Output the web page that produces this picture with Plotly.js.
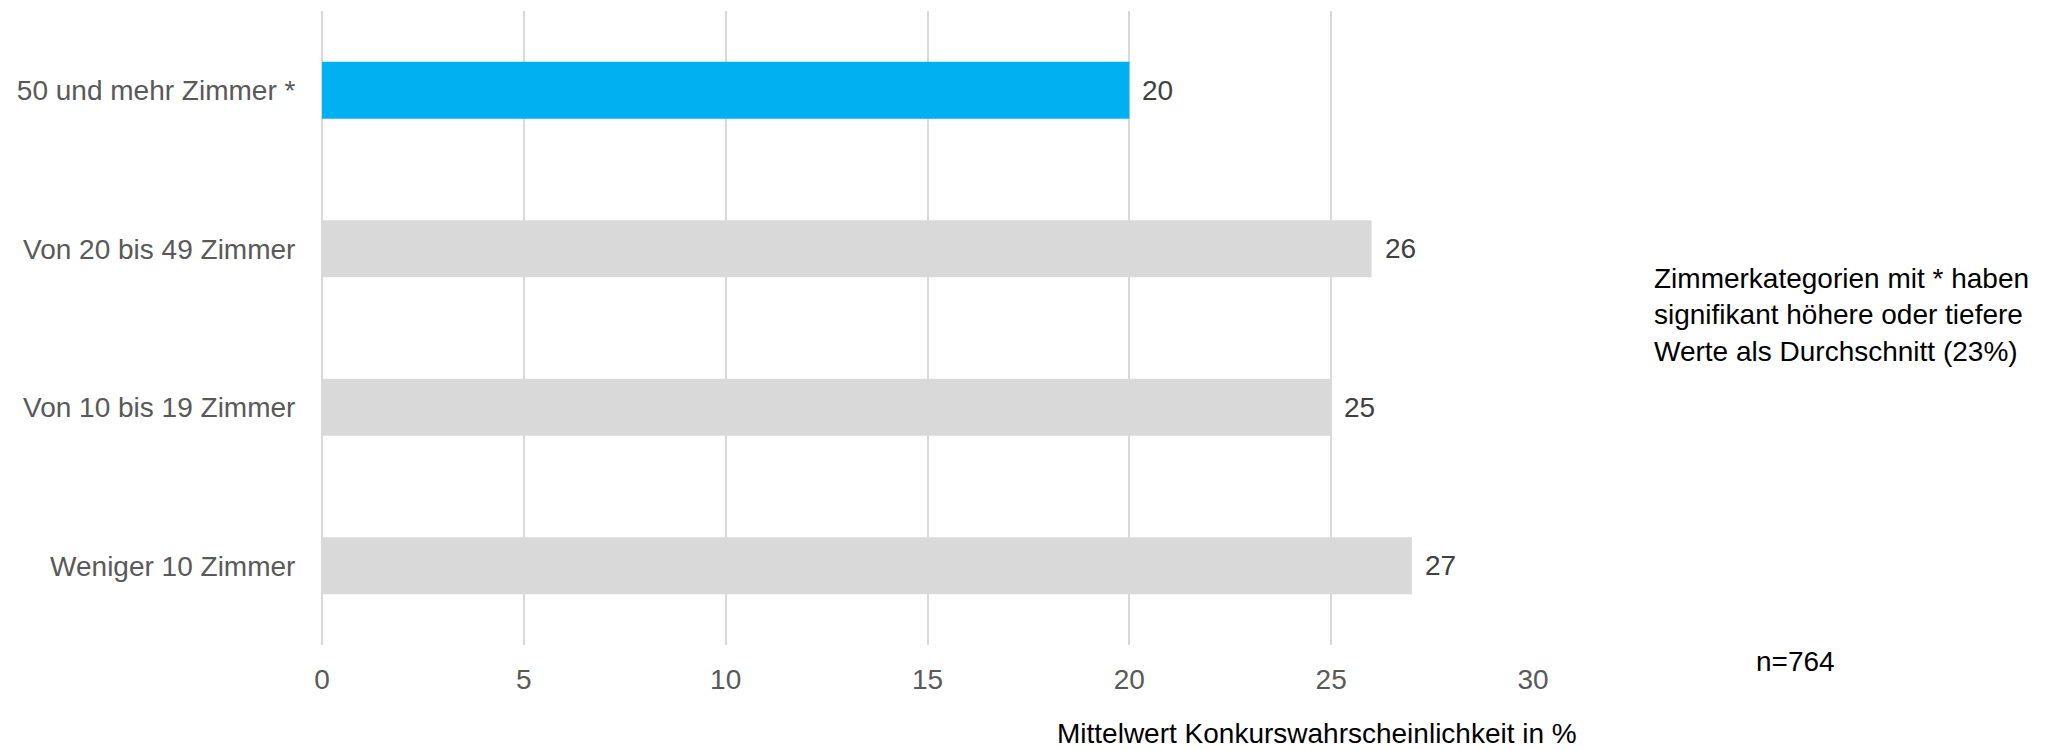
<!DOCTYPE html>
<html>
<head>
<meta charset="utf-8">
<script src="https://cdn.plot.ly/plotly-3.0.1.min.js"></script>
<style>html,body{margin:0;padding:0;background:#fff;}#chart{width:2051px;height:750px;}</style>
</head>
<body>
<div id="chart"></div>
<script>
const categories = ["50 und mehr Zimmer *", "Von 20 bis 49 Zimmer", "Von 10 bis 19 Zimmer", "Weniger 10 Zimmer"];
const values = [20, 26, 25, 27];
const barColors = ["#00B0F0", "#D9D9D9", "#D9D9D9", "#D9D9D9"];
const xTicks = [0, 5, 10, 15, 20, 25, 30];
const xTitle = "Mittelwert Konkurswahrscheinlichkeit in %";
const noteText = "Zimmerkategorien mit * haben<br>signifikant höhere oder tiefere<br>Werte als Durchschnitt (23%)";
const nText = "n=764";

const FONT = "Liberation Sans, Arial, sans-serif";
const FS = 28;

const trace = {
  type: "bar",
  orientation: "h",
  x: values,
  y: categories,
  width: 0.36,
  marker: {color: barColors, line: {width: 0}},
  hoverinfo: "none"
};

const valueLabels = categories.map((c, i) => ({
  x: values[i], y: c, xref: "x", yref: "y",
  text: String(values[i]), showarrow: false,
  xanchor: "left", yanchor: "middle", xshift: 11,
  font: {family: FONT, size: FS, color: "#404040"}
}));

const layout = {
  width: 2051, height: 750,
  paper_bgcolor: "#ffffff", plot_bgcolor: "#ffffff",
  margin: {l: 322, r: 518, t: 11, b: 105},
  showlegend: false,
  font: {family: FONT, size: FS, color: "#595959"},
  xaxis: {
    range: [0, 30], tickvals: xTicks, ticktext: xTicks.map(String),
    showgrid: true, gridcolor: "#D9D9D9", gridwidth: 2,
    zeroline: true, zerolinecolor: "#D9D9D9", zerolinewidth: 2,
    showline: false, ticks: "outside", ticklen: 9, tickcolor: "rgba(0,0,0,0)",
    tickfont: {family: FONT, size: FS, color: "#595959"},
    fixedrange: true
  },
  yaxis: {
    autorange: "reversed", showgrid: false, zeroline: false, showline: false,
    ticks: "outside", ticklen: 20, tickcolor: "rgba(0,0,0,0)",
    tickfont: {family: FONT, size: FS, color: "#595959"},
    fixedrange: true
  },
  annotations: valueLabels.concat([
    {xref: "paper", yref: "paper", x: (1317-322)/(1533-322), y: -(733-645)/634,
     text: xTitle, showarrow: false, xanchor: "center", yanchor: "middle",
     font: {family: FONT, size: FS, color: "#000000"}},
    {xref: "paper", yref: "paper", x: (1795-322)/(1533-322), y: -(661-645)/634,
     text: nText, showarrow: false, xanchor: "center", yanchor: "middle",
     font: {family: FONT, size: FS, color: "#000000"}},
    {xref: "paper", yref: "paper", x: (1652-322)/(1533-322), y: (645-315)/634,
     text: noteText, showarrow: false, xanchor: "left", yanchor: "middle", align: "left",
     font: {family: FONT, size: FS, color: "#000000"}}
  ])
};

Plotly.newPlot("chart", [trace], layout, {displayModeBar: false, staticPlot: true});
</script>
</body>
</html>
